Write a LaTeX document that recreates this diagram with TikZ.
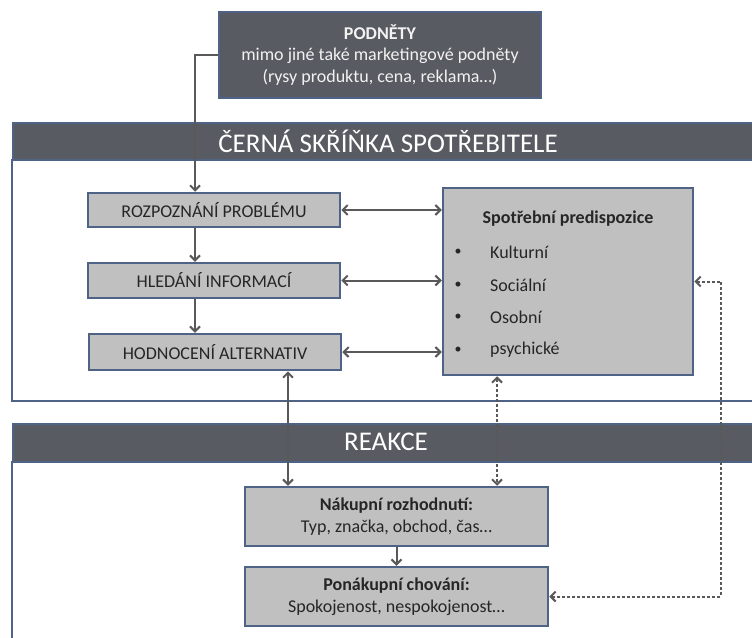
\documentclass[tikz,border=0pt]{standalone}
\usepackage{fontspec}
\setmainfont{Carlito}
\usetikzlibrary{arrows.meta}

\definecolor{bannerfill}{HTML}{595B62}
\definecolor{framecol}{HTML}{4F6386}
\definecolor{boxfill}{HTML}{C0C0C0}
\definecolor{boxedge}{HTML}{4F6386}
\definecolor{linecol}{HTML}{595959}
\definecolor{txtcol}{HTML}{262626}
\definecolor{lighttxt}{HTML}{F2F2F2}

\begin{document}
\begin{tikzpicture}[x=1pt,y=-1pt,
  banner/.style={fill=bannerfill, draw=framecol, line width=1.5pt, inner sep=0pt},
  frameline/.style={draw=framecol, line width=2.5pt},
  bannertext/.style={text=white, inner sep=0pt, font=\fontsize{27}{31}\selectfont},
  darkbox/.style={fill=bannerfill, draw=framecol, line width=2pt, inner sep=0pt,
    text=lighttxt, align=center, font=\fontsize{18}{21.5}\selectfont},
  procbox/.style={draw=boxedge, fill=boxfill, line width=2.5pt, inner sep=0pt,
    text=txtcol, align=center, font=\fontsize{18}{21.5}\selectfont},
  itemtext/.style={text=txtcol, inner sep=0pt, font=\fontsize{18}{21}\selectfont},
  conn/.style={draw=linecol, line width=2pt, -{Straight Barb[length=5pt,width=10pt]}},
  dconn/.style={draw=linecol, line width=2pt, {Straight Barb[length=5pt,width=10pt]}-{Straight Barb[length=5pt,width=10pt]}},
  dashconn/.style={draw=linecol, line width=2pt, dash pattern=on 3pt off 2pt,
    {Straight Barb[length=5pt,width=10pt]}-{Straight Barb[length=5pt,width=10pt]}}
]
\path[use as bounding box] (0,0) rectangle (752,637);
\clip (0,0) rectangle (752,637);

% stimuli box
\node[darkbox, minimum width=322, minimum height=86] (podnety) at (380,55)
  {\textbf{PODNĚTY}\\mimo jiné také marketingové podněty\\(rysy produktu, cena, reklama…)};

% black box frame and its banner
\draw[frameline] (12,159) -- (12,401) -- (770,401);
\node[banner, minimum width=760, minimum height=37, anchor=north west] (cerna) at (12,122) {};
\node[bannertext] (cernatxt) at (388,141) {ČERNÁ SKŘÍŇKA SPOTŘEBITELE};

% reaction frame and its banner
\draw[frameline] (12,461) -- (12,660);
\node[banner, minimum width=760, minimum height=38, anchor=north west] (reakce) at (12,423) {};
\node[bannertext] (reakcetxt) at (386,442) {REAKCE};

% decision process
\node[procbox, minimum width=252, minimum height=34] (rozp) at (214,210) {ROZPOZNÁNÍ PROBLÉMU};
\node[procbox, minimum width=252, minimum height=35] (hled) at (214,280.5) {HLEDÁNÍ INFORMACÍ};
\node[procbox, minimum width=252, minimum height=36] (hodn) at (215,352) {HODNOCENÍ ALTERNATIV};

% predispositions
\node[procbox, minimum width=250, minimum height=187] (pred) at (568,281.5) {};
\node[itemtext, font=\fontsize{18}{21}\selectfont\bfseries] (predtitle) at (568,219) {Spotřební predispozice};
\node[itemtext, font=\fontsize{14}{16}\selectfont] (b1) at (458,252) {•};
\node[itemtext, font=\fontsize{14}{16}\selectfont] (b2) at (458,285) {•};
\node[itemtext, font=\fontsize{14}{16}\selectfont] (b3) at (458,317) {•};
\node[itemtext, font=\fontsize{14}{16}\selectfont] (b4) at (458,350) {•};
\node[itemtext, anchor=west] (i1) at (490,252) {Kulturní};
\node[itemtext, anchor=west] (i2) at (490,285) {Sociální};
\node[itemtext, anchor=west] (i3) at (490,317) {Osobní};
\node[itemtext, anchor=west] (i4) at (490,350) {psychické};

% reactions
\node[procbox, minimum width=303, minimum height=59] (nak) at (396.5,516.5)
  {\textbf{Nákupní rozhodnutí:}\\Typ, značka, obchod, čas…};
\node[procbox, minimum width=303, minimum height=59] (ponak) at (396.5,596.5)
  {\textbf{Ponákupní chování:}\\Spokojenost, nespokojenost…};

% connector guide positions
\coordinate (cx) at (195,54);
\coordinate (sx) at (288,0);
\coordinate (dx) at (497,0);
\coordinate (rx) at (721,282);

% connectors
\draw[conn] (podnety.west) -| (rozp.north -| cx);
\draw[conn] (rozp.south -| cx) -- (hled.north -| cx);
\draw[conn] (hled.south -| cx) -- (hodn.north -| cx);
\draw[dconn] (rozp.east) -- (rozp.east -| pred.west);
\draw[dconn] (hled.east) -- (hled.east -| pred.west);
\draw[dconn] (hodn.east) -- (hodn.east -| pred.west);
\draw[dconn] (hodn.south -| sx) -- (nak.north -| sx);
\draw[dashconn] (pred.south -| dx) -- (nak.north -| dx);
\draw[dashconn] (pred.east) -- (pred.east -| rx) |- (ponak.east);
\draw[conn] (nak.south) -- (ponak.north);
\end{tikzpicture}
\end{document}
